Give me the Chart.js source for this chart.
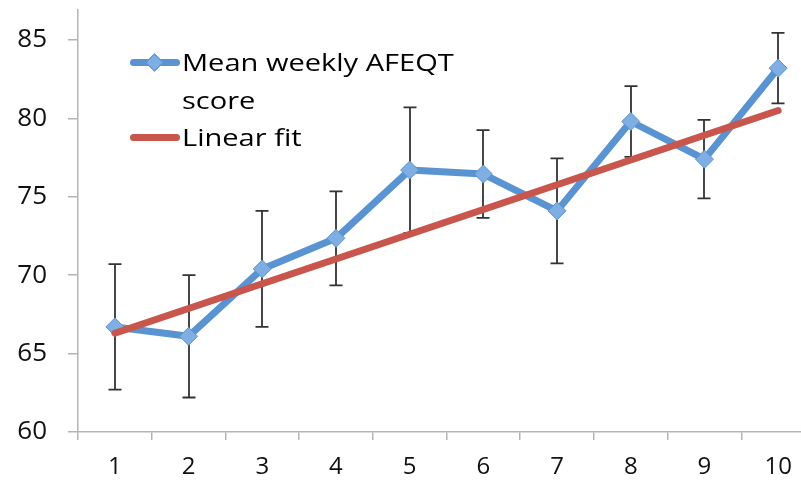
<!DOCTYPE html>
<html><head><meta charset="utf-8">
<script src="https://cdn.jsdelivr.net/npm/chart.js@4"></script>
<style>
html,body{margin:0;padding:0;background:#fff;overflow:hidden;width:801px;height:485px;}
#wrap{position:relative;width:801px;height:485px;overflow:hidden;}
#c{position:absolute;left:0;top:0;}
.txt{position:absolute;font-family:'Open Sans',sans-serif;font-size:24px;color:#000;white-space:nowrap;line-height:38px;transform:scaleX(1.21);transform-origin:0 0;}
.sym{position:absolute;height:7px;border-radius:4px;}
.dia{position:absolute;width:13px;height:13px;transform:rotate(45deg);background:#7FAEE3;border:1px solid #5B93D3;box-sizing:border-box;}
</style></head><body>
<div id="wrap">
<canvas id="c" width="825" height="485"></canvas>
<div class="sym" style="left:130px;top:59px;width:50px;background:#5A93D2;"></div>
<div class="dia" style="left:148px;top:56px;"></div>
<div class="txt" id="t1" style="left:182px;top:43px;">Mean weekly AFEQT<br>score</div>
<div class="sym" style="left:130px;top:134px;width:50px;background:#C9564C;"></div>
<div class="txt" id="t2" style="left:182px;top:118px;">Linear fit</div>
</div>
<script>
const weeks = ['1','2','3','4','5','6','7','8','9','10'];
const meanScore = [66.7, 66.1, 70.4, 72.35, 76.7, 76.45, 74.1, 79.8, 77.4, 83.2];
const errorSize = [4.0, 3.9, 3.7, 3.0, 4.0, 2.8, 3.35, 2.25, 2.5, 2.25];
const fitLine = [66.3, null, null, null, null, null, null, null, null, 80.5];
const yTicks = [60, 65, 70, 75, 80, 85];
const seriesNames = ['Mean weekly AFEQT score', 'Linear fit'];

Chart.defaults.font.family = "'Open Sans', sans-serif";

const errorBars = {
  id: 'errorBars',
  beforeDatasetsDraw(chart) {
    const ctx = chart.ctx, x = chart.scales.x, y = chart.scales.y;
    ctx.save();
    ctx.strokeStyle = '#333';
    ctx.lineWidth = 1.8;
    meanScore.forEach((m, i) => {
      const px = Math.round(x.getPixelForValue(i));
      const top = y.getPixelForValue(m + errorSize[i]);
      const bot = y.getPixelForValue(m - errorSize[i]);
      ctx.beginPath();
      ctx.moveTo(px, top); ctx.lineTo(px, bot);
      ctx.moveTo(px - 6.5, top); ctx.lineTo(px + 6.5, top);
      ctx.moveTo(px - 6.5, bot); ctx.lineTo(px + 6.5, bot);
      ctx.stroke();
    });
    ctx.restore();
  }
};

new Chart(document.getElementById('c'), {
  type: 'line',
  data: {
    labels: weeks,
    datasets: [
      {
        label: seriesNames[0],
        data: meanScore,
        borderColor: '#5A93D2',
        borderWidth: 7,
        borderJoinStyle: 'round',
        tension: 0,
        pointStyle: 'rectRot',
        pointRadius: 9,
        pointBackgroundColor: '#7FAEE3',
        pointBorderColor: '#5B93D3',
        pointBorderWidth: 1,
        order: 2
      },
      {
        label: seriesNames[1],
        data: fitLine,
        borderColor: '#C9564C',
        borderWidth: 7,
        borderCapStyle: 'round',
        spanGaps: true,
        pointRadius: 0,
        order: 1
      }
    ]
  },
  options: {
    responsive: false,
    animation: false,
    layout: { padding: { top: 10, right: 3, left: 0, bottom: 0 } },
    plugins: { legend: { display: false }, tooltip: { enabled: false } },
    scales: {
      x: {
        type: 'category',
        offset: true,
        grid: { offset: true, drawOnChartArea: false, tickLength: 8, color: '#B5B5B5', lineWidth: 1.5 },
        border: { color: '#B5B5B5', width: 1.5 },
        ticks: { color: '#111', font: { size: 24 }, padding: 13, maxRotation: 0, autoSkip: false },
        afterFit(s) { s.height = 53; s.paddingLeft = 0; s.paddingRight = 0; }
      },
      y: {
        min: 60,
        max: 86.91,
        afterBuildTicks(s) { s.ticks = yTicks.map(v => ({ value: v })); },
        grid: { drawOnChartArea: false, tickLength: 10, color: '#B5B5B5', lineWidth: 1.5 },
        border: { color: '#B5B5B5', width: 1.5 },
        ticks: { color: '#111', font: { size: 26 }, padding: 21 },
        afterFit(s) { s.width = 78; s.paddingTop = 0; s.paddingBottom = 0; }
      }
    }
  },
  plugins: [errorBars]
});
</script>
</body></html>
